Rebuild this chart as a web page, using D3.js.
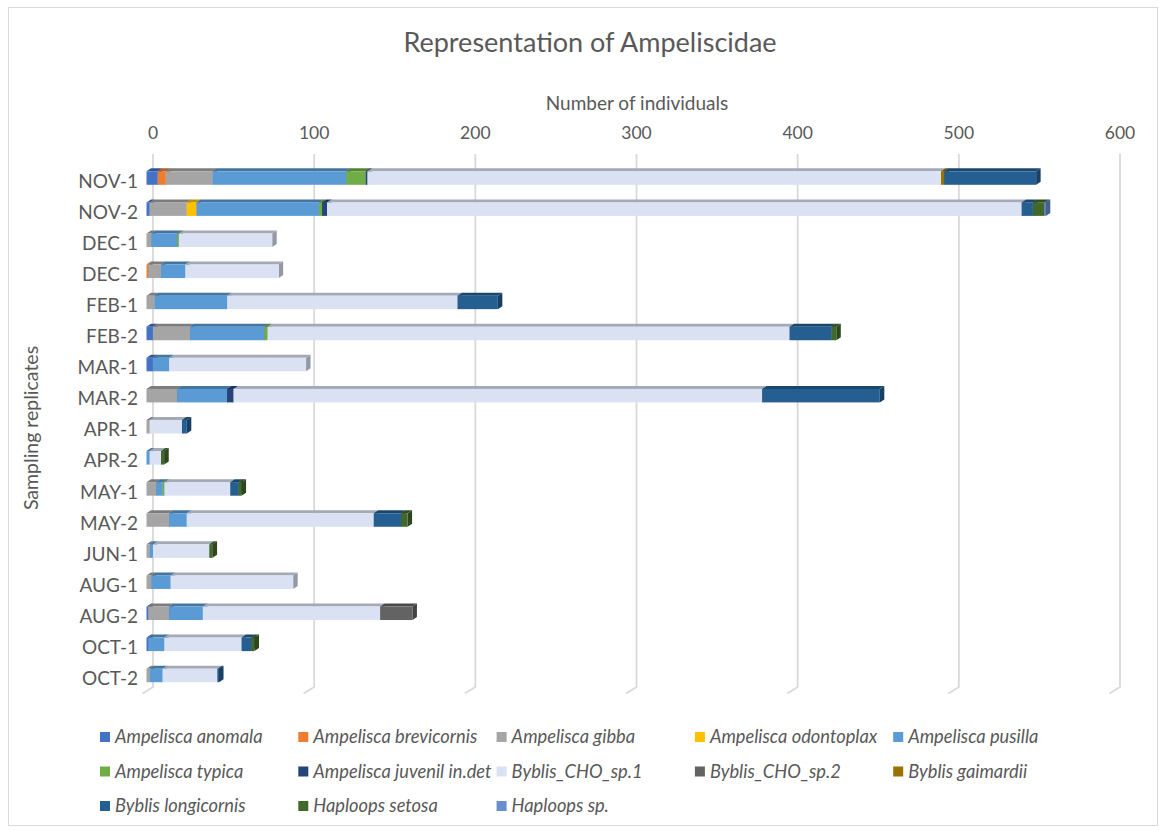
<!DOCTYPE html>
<html lang="en">
<head>
<meta charset="UTF-8">
<title>Representation of Ampeliscidae</title>
<script src="https://d3js.org/d3.v7.min.js"></script>
<style>
body { margin: 0; background: white; font-family: Lato, "Noto Sans", sans-serif; }
text { fill: #595959; }
</style>
</head>
<body>
<div id="chart"></div>
<script>
// sampling replicates (top to bottom)
var categories = ["NOV-1","NOV-2","DEC-1","DEC-2","FEB-1","FEB-2","MAR-1","MAR-2","APR-1","APR-2","MAY-1","MAY-2","JUN-1","AUG-1","AUG-2","OCT-1","OCT-2"];

var seriesNames = ["Ampelisca anomala","Ampelisca brevicornis","Ampelisca gibba","Ampelisca odontoplax","Ampelisca pusilla",
  "Ampelisca typica","Ampelisca juvenil in.det","Byblis_CHO_sp.1","Byblis_CHO_sp.2","Byblis gaimardii",
  "Byblis longicornis","Haploops setosa","Haploops sp."];

var seriesColors = ["#4472C4","#ED7D31","#A5A5A5","#FFC000","#5B9BD5","#70AD47","#264478","#D9E1F2","#636363","#997300","#255E91","#43682B","#698ED0"];

// one array per species, values in category order
var anomala     = [7, 2, 0, 0, 0, 4, 4, 0, 0, 0, 0, 0, 0, 0, 1, 1, 0];
var brevicornis = [5, 0, 0, 1, 0, 0, 0, 0, 0, 0, 0, 0, 0, 0, 0, 0, 0];
var gibba       = [29, 23, 3, 8, 5, 23, 0, 19, 2, 0, 6, 14, 2, 3, 13, 0, 2];
var odontoplax  = [0, 6, 0, 0, 0, 0, 0, 0, 0, 0, 0, 0, 0, 0, 0, 0, 0];
var pusilla     = [83, 76, 16, 15, 45, 46, 10, 31, 0, 2, 4, 11, 2, 12, 21, 10, 8];
var typica      = [12, 2, 1, 0, 0, 2, 0, 0, 0, 0, 1, 0, 0, 0, 0, 0, 0];
var juvenil     = [1, 3, 0, 0, 0, 0, 0, 4, 0, 0, 0, 0, 0, 0, 0, 0, 0];
var chosp1      = [356, 431, 58, 58, 143, 324, 85, 328, 20, 7, 41, 116, 35, 76, 110, 48, 34];
var chosp2      = [0, 0, 0, 0, 0, 0, 0, 0, 0, 0, 0, 0, 0, 0, 20, 0, 0];
var gaimardii   = [2, 0, 0, 0, 0, 0, 0, 0, 0, 0, 0, 0, 0, 0, 0, 0, 0];
var longicornis = [57, 7, 0, 0, 25, 26, 0, 73, 3, 0, 5, 17, 0, 0, 0, 6, 1];
var setosa      = [0, 7, 0, 0, 0, 3, 0, 0, 0, 2, 2, 4, 2, 0, 0, 2, 0];
var haploopsSp  = [0, 1, 0, 0, 0, 0, 0, 0, 0, 0, 0, 0, 0, 0, 0, 0, 0];

var seriesValues = [anomala, brevicornis, gibba, odontoplax, pusilla, typica, juvenil, chosp1, chosp2, gaimardii, longicornis, setosa, haploopsSp];

var xTicks = [0, 100, 200, 300, 400, 500, 600];

var W = 1165, H = 830;
var svg = d3.select("#chart").append("svg")
    .attr("width", W)
    .attr("height", H);

// chart border
svg.append("rect")
    .attr("x", 8.5).attr("y", 7.5)
    .attr("width", 1149).attr("height", 818)
    .attr("fill", "white")
    .attr("stroke", "#D9D9D9");

// back wall scale (gridlines) and front-face offset for the 3D look
var x = d3.scaleLinear().domain([0, 600]).range([153, 1120]);
var front = -6.5;          // front face sits left of the wall
var depth = {dx: 4.5, dy: -3};
var faceH = 13.5;

var y = d3.scaleBand().domain(categories).range([162.5, 691]).padding(0);

// gridlines with the little floor bend
var grid = svg.append("g");
xTicks.forEach(function(t) {
  var gx = x(t);
  grid.append("path")
    .attr("d", "M" + gx + ",154 L" + gx + ",687 L" + (gx - 10.5) + ",693.5")
    .attr("fill", "none")
    .attr("stroke", "#D9D9D9")
    .attr("stroke-width", 1.8);
});

// top axis labels
svg.append("g").selectAll("text")
  .data(xTicks).enter().append("text")
    .attr("x", function(d) { return x(d); })
    .attr("y", 139)
    .attr("text-anchor", "middle")
    .attr("font-size", "17.5px")
    .text(function(d) { return d; });

svg.append("text")
    .attr("x", 637).attr("y", 110)
    .attr("text-anchor", "middle")
    .attr("font-size", "19px")
    .text("Number of individuals");

svg.append("text")
    .attr("x", 590).attr("y", 52)
    .attr("text-anchor", "middle")
    .attr("font-size", "27px")
    .text("Representation of Ampeliscidae");

svg.append("text")
    .attr("transform", "translate(38,428) rotate(-90)")
    .attr("text-anchor", "middle")
    .attr("font-size", "19.5px")
    .text("Sampling replicates");

// category labels
svg.append("g").selectAll("text")
  .data(categories).enter().append("text")
    .attr("x", 138)
    .attr("y", function(d) { return y(d) + y.bandwidth() / 2 + 3; })
    .attr("dy", "0.35em")
    .attr("text-anchor", "end")
    .attr("font-size", "19px")
    .text(function(d) { return d; });

// stacked 3D-ish bars
var bars = svg.append("g");
categories.forEach(function(cat, i) {
  var yTop = y(cat) + (y.bandwidth() - faceH) / 2;
  var yBot = yTop + faceH;
  var acc = 0;
  var g = bars.append("g");
  seriesValues.forEach(function(vals, s) {
    var v = vals[i];
    if (!v) return;
    var x0 = x(acc) + front, x1 = x(acc + v) + front;
    acc += v;
    var c = d3.color(seriesColors[s]);
    // right side face
    g.append("path")
      .attr("d", "M" + x1 + "," + yTop + " L" + (x1 + depth.dx) + "," + (yTop + depth.dy) +
                 " L" + (x1 + depth.dx) + "," + (yBot + depth.dy) + " L" + x1 + "," + yBot + "Z")
      .attr("fill", c.darker(1.1));
    // top face
    g.append("path")
      .attr("d", "M" + x0 + "," + yTop + " L" + (x0 + depth.dx) + "," + (yTop + depth.dy) +
                 " L" + (x1 + depth.dx) + "," + (yTop + depth.dy) + " L" + x1 + "," + yTop + "Z")
      .attr("fill", c.darker(0.8));
    // front face
    g.append("rect")
      .attr("x", x0).attr("y", yTop)
      .attr("width", Math.max(0, x1 - x0)).attr("height", faceH)
      .attr("fill", c);
  });
});

// legend
var legend = svg.append("g");
seriesNames.forEach(function(name, s) {
  var col = s % 5, row = Math.floor(s / 5);
  var lx = 100 + col * 198.3, ly = 737 + row * 34.5;
  legend.append("rect")
    .attr("x", lx).attr("y", ly - 5)
    .attr("width", 10).attr("height", 10)
    .attr("fill", seriesColors[s]);
  legend.append("text")
    .attr("x", lx + 15).attr("y", ly)
    .attr("dy", "0.35em")
    .attr("font-size", "18.3px")
    .attr("font-style", "italic")
    .text(name);
});
</script>
</body>
</html>
